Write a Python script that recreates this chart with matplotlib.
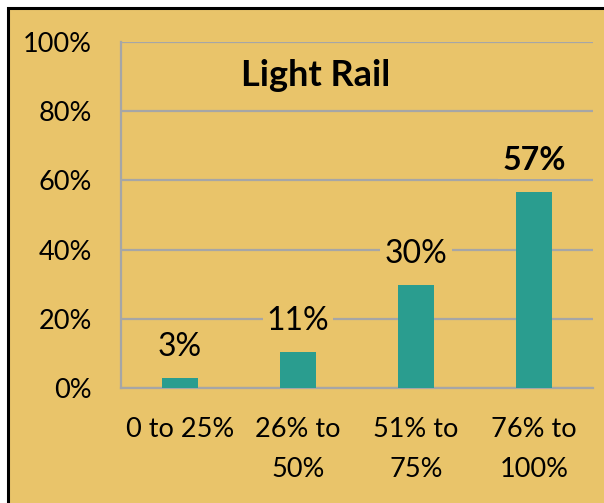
import matplotlib.pyplot as plt
from matplotlib.patches import Rectangle
from matplotlib.ticker import PercentFormatter

# share of riders by range
categories = ['0 to 25%', '26% to\n50%', '51% to\n75%', '76% to\n100%']
shares = [3, 10.4, 29.8, 56.7]
value_labels = ['3%', '11%', '30%', '57%']
bold_label = [False, False, False, True]
title = 'Light Rail'

bg = '#E9C46A'
teal = '#2A9D8F'
grid_gray = '#A6A6A6'

plt.rcParams['font.family'] = ['Lato', 'DejaVu Sans']

W, H = 604, 503
fig = plt.figure(figsize=(W / 100, H / 100), dpi=100)
fig.patch.set_facecolor('white')

# black frame, only top and left edges inside the image
frame = Rectangle((8 / W, -0.5), 2.0, (H - 8) / H + 0.5, transform=fig.transFigure,
                  facecolor=bg, edgecolor='black', linewidth=2.2, zorder=-10)
fig.patches.append(frame)

ax = fig.add_axes([121 / W, (H - 388) / H, 472 / W, 346 / H])
ax.set_facecolor('none')

x = range(len(categories))
ax.bar(x, shares, width=0.31, color=teal, zorder=3)

for i, (v, lab) in enumerate(zip(shares, value_labels)):
    ax.annotate(lab, (i, v), xytext=(0, 15.5), textcoords='offset points',
                ha='center', va='baseline', fontsize=23,
                fontweight='bold' if bold_label[i] else 'normal',
                bbox=dict(facecolor=bg, edgecolor='none', pad=3), zorder=4)

ax.text(0.413, 0.873, title, transform=ax.transAxes, ha='center', va='baseline',
        fontsize=26, fontweight='bold')

ax.set_ylim(0, 100)
ax.set_xlim(-0.5, 3.5)
ax.set_yticks(range(0, 101, 20))
ax.yaxis.set_major_formatter(PercentFormatter(decimals=0))
ax.set_xticks(list(x))
ax.set_xticklabels(categories, linespacing=1.75)
ax.tick_params(axis='y', length=0, pad=21, labelsize=19.5)
ax.tick_params(axis='x', length=0, pad=21, labelsize=19.5)
ax.grid(axis='y', color=grid_gray, linewidth=1.6, zorder=1)
ax.set_axisbelow(True)

for s in ['top', 'right']:
    ax.spines[s].set_visible(False)
for s in ['left', 'bottom']:
    ax.spines[s].set_color(grid_gray)
    ax.spines[s].set_linewidth(1.6)
    ax.spines[s].set_zorder(1)

fig.savefig('out.png', dpi=100, facecolor=fig.get_facecolor())
